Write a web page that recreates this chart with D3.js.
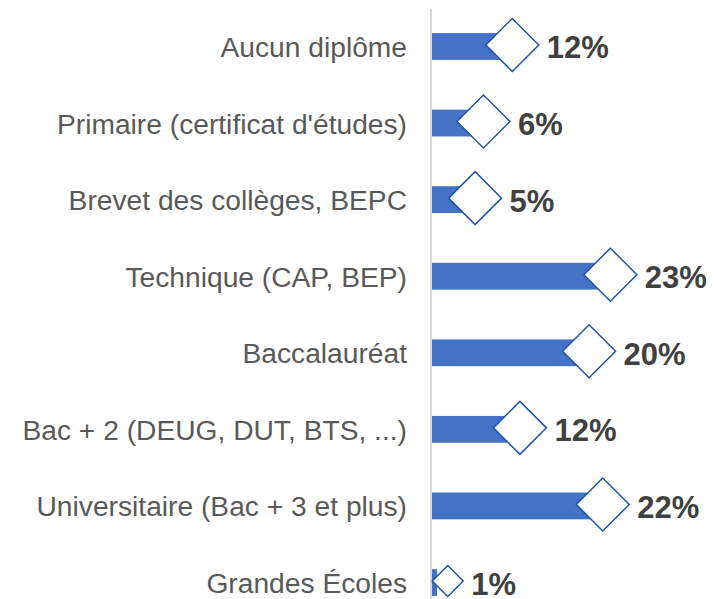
<!DOCTYPE html>
<html>
<head>
<meta charset="utf-8">
<script src="https://cdn.jsdelivr.net/npm/d3@7"></script>
<style>
  html, body { margin: 0; padding: 0; background: #ffffff; }
  svg { display: block; }
</style>
</head>
<body>
<svg id="chart" width="715" height="599"></svg>
<script>
// ---- data ----
const categories = [
  "Aucun diplôme",
  "Primaire (certificat d'études)",
  "Brevet des collèges, BEPC",
  "Technique (CAP, BEP)",
  "Baccalauréat",
  "Bac + 2 (DEUG, DUT, BTS, ...)",
  "Universitaire (Bac + 3 et plus)",
  "Grandes Écoles"
];
const barValues    = [12, 6, 5, 23, 20, 12, 22, 0.8];
const markerValues = [10.7, 6.9, 5.8, 23.6, 20.8, 11.7, 22.6, 2.2];
const valueLabels  = ["12%", "6%", "5%", "23%", "20%", "12%", "22%", "1%"];

// ---- layout ----
const svg = d3.select("#chart");
const x = d3.scaleLinear().domain([0, 30]).range([431, 659]);
const y = d3.scaleBand().domain(categories).range([8.2, 620.8]).paddingInner(0.65).paddingOuter(0.325);

const barColor = "#4472C4";
const markerStroke = "#1F55A5";

// bars
svg.append("g").selectAll("rect")
  .data(categories)
  .join("rect")
  .attr("x", x(0) + 1)
  .attr("y", d => y(d))
  .attr("width", (d, i) => Math.max(0, x(barValues[i]) - x(0) - 1))
  .attr("height", y.bandwidth())
  .attr("fill", barColor);

// axis line
svg.append("line")
  .attr("x1", x(0)).attr("x2", x(0))
  .attr("y1", 9).attr("y2", 599)
  .attr("stroke", "#d9d9d9").attr("stroke-width", 2);

// diamonds
const half = i => (i === categories.length - 1 ? 15.5 : 26.5);
const cy = d => y(d) + y.bandwidth() / 2 - 1.5;
svg.append("g").selectAll("path")
  .data(categories)
  .join("path")
  .attr("d", (d, i) => {
    const cx = x(markerValues[i]), c = cy(d), h = half(i);
    return `M${cx - h},${c}L${cx},${c - h}L${cx + h},${c}L${cx},${c + h}Z`;
  })
  .attr("fill", "#ffffff")
  .attr("stroke", markerStroke)
  .attr("stroke-width", 1.5);

// category labels
svg.append("g").selectAll("text")
  .data(categories)
  .join("text")
  .attr("x", 407)
  .attr("y", d => y(d) + y.bandwidth() / 2 + 10.5)
  .attr("text-anchor", "end")
  .attr("font-family", "'Liberation Sans', Arial, sans-serif")
  .attr("font-size", 28.2)
  .attr("fill", "#595959")
  .text(d => d);

// value labels
svg.append("g").selectAll("text")
  .data(categories)
  .join("text")
  .attr("x", (d, i) => x(markerValues[i]) + half(i) + 8)
  .attr("y", d => y(d) + y.bandwidth() / 2 + 12)
  .attr("font-family", "'Liberation Sans', Arial, sans-serif")
  .attr("font-weight", "bold")
  .attr("font-size", 31)
  .attr("fill", "#404040")
  .text((d, i) => valueLabels[i]);
</script>
</body>
</html>
